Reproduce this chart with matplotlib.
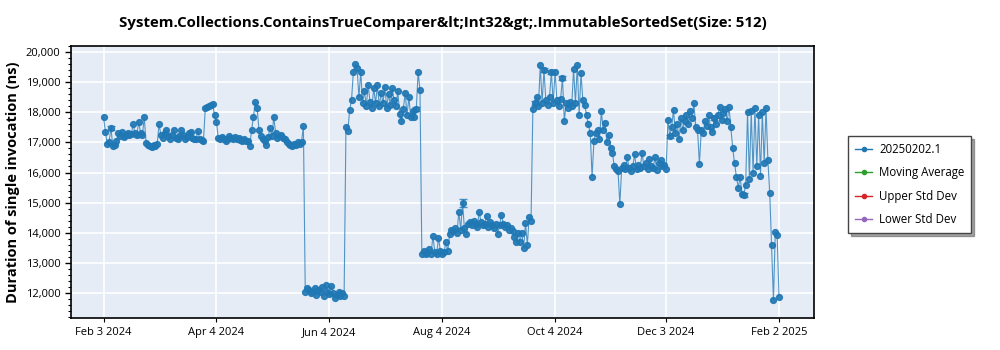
import matplotlib
matplotlib.use("Agg")
from matplotlib import pyplot as plt
from matplotlib.ticker import MultipleLocator, FuncFormatter
import numpy as np
import pandas as pd

plt.rcParams['font.family'] = ['Open Sans', 'DejaVu Sans']

title = "System.Collections.ContainsTrueComparer&lt;Int32&gt;.ImmutableSortedSet(Size: 512)"
series_name = "20250202.1"
start_date = "2024-02-03"

# daily durations (ns)
feb_jun = [17840, 17360, 16950, 17020, 17480, 16880, 16900, 17050, 17300, 17200,
           17350, 17180, 17250, 17300, 17230, 17280, 17600, 17300, 17250, 17680,
           17320, 17240, 17840, 16980, 16900, 16870, 16850, 16920, 16880, 16950,
           17600, 17250, 17150, 17300, 17410, 17200, 17100, 17250, 17410, 17150,
           17100, 17200, 17410, 17250, 17100, 17180, 17300, 17350, 17150, 17100,
           17120, 17380, 17100, 17080, 17060, 18150, 18170, 18200, 18240, 18260,
           17900, 17680, 17150, 17100, 17180, 17120, 17050, 17100, 17200, 17150,
           17120, 17180, 17100, 17150, 17090, 17060, 17120, 17050, 17030, 16880,
           17410, 17840, 18340, 18140, 17400, 17200, 17100, 17050, 16910, 17180,
           17480, 17200, 17840, 17300, 17150, 17200, 17250, 17150, 17100, 17000,
           16950, 16900, 16880, 16950, 16920, 17000, 16960, 17020, 17540]
jun_low = [12030, 12150, 12100, 12000, 12050, 12180, 11950, 12100, 12020, 12200,
           11900, 12260, 12050, 11980, 12230, 12000, 11830, 11950, 12050, 11900,
           12000, 11900]
jun_jul = [17500, 17380, 18080, 18400, 19340, 19600, 19470, 18500, 19340, 18300,
           18700, 18200, 18900, 18350, 18150, 18800, 18300, 18900, 18200, 18650,
           18300, 18850, 18150, 18600, 18250, 18800, 18400, 18200, 18700, 17950,
           17700, 18100, 18650, 17900, 18500, 17850, 18050, 17840, 18100, 19340, 18740]
jul_sep = [13300, 13400, 13280, 13350, 13450, 13300, 13900, 13350, 13280, 13830,
           13400, 13300, 13350, 13700, 13380,
           13950, 14100, 14050, 14150, 14000, 14690, 14100, 14990, 14150, 13950,
           14300, 14350, 14250, 14400, 14300, 14200, 14690, 14350, 14250, 14300,
           14560, 14200, 14350, 14250, 14150, 14300, 13960, 14250, 14600, 14300,
           14200, 14250, 14100, 14150, 14050,
           13860, 13690, 14000, 13700, 13990, 13490, 14320, 13600, 14520, 14400]
sep_oct = [18100, 18300, 18500, 18200, 19570, 18300, 19400, 18400, 18250, 18500,
           19340, 18300, 19350, 18400, 18200, 18450, 19140, 17710, 18300, 18150,
           18350, 18200, 19450, 18300, 19570, 17900, 19300, 18400, 18250, 17900]
oct_dec = [17600, 17300, 15850, 17050, 17300, 17400, 17100, 18040, 17400, 17650,
           17000, 17250, 16800, 16650,
           16200, 16100, 16050, 14950, 16150, 16250, 16100, 16500, 16150, 16050,
           16200, 16600, 16100, 16250, 16150, 16650, 16200,
           16300, 16100, 16450, 16200, 16150, 16500, 16080, 16300, 16400, 16200,
           16250, 16100]
dec_feb = [17740, 17200, 17500, 18080, 17300, 17600, 17100, 17800, 17400,
           17700, 17900, 17600, 18050, 17800, 18300, 17500, 17400,
           16280, 17410,
           17300, 17700, 17550, 17900, 17500, 17350, 17800, 17600, 17900, 18170,
           17750, 17980, 18100, 17700, 18170,
           17500, 16800, 16300, 15850, 15500, 15850, 15300, 15250, 15600,
           18010, 15800, 18040, 16000, 18140, 16200, 17910, 15900, 18000, 16300,
           18150, 16400, 15320,
           13590, 11770, 14020, 13930, 11870]

# points with visible error bars: day index and half-width (ns)
err_days = [4, 18, 169, 194, 233, 238, 242, 248, 306, 330, 346]
err_sizes = [70, 60, 70, 130, 60, 60, 60, 70, 60, 60, 60]

x_ticks = ["2024-02-03", "2024-04-04", "2024-06-04", "2024-08-04",
           "2024-10-04", "2024-12-03", "2025-02-02"]
x_labels = ["Feb 3 2024", "Apr 4 2024", "Jun 4 2024", "Aug 4 2024",
            "Oct 4 2024", "Dec 3 2024", "Feb 2 2025"]

legend_names = [series_name, "Moving Average", "Upper Std Dev", "Lower Std Dev"]
legend_colors = ["#1f77b4", "#2ca02c", "#d62728", "#9467bd"]

values = np.array(feb_jun + jun_low + jun_jul + jul_sep + sep_oct + oct_dec + dec_feb)
dates = pd.date_range(start_date, periods=len(values), freq="D")

fig = plt.figure(figsize=(10, 3.5), dpi=100)
ax = fig.add_axes([0.071, 0.0914, 0.743, 0.7772])
ax.set_facecolor("#e5ecf6")

ax.plot(dates, values, color="#1f77b4", lw=0.8, alpha=0.75, zorder=3)
ax.plot(dates, values, ls="none", marker="o", ms=4.2, color="#1f77b4", alpha=0.9, zorder=4)
ax.errorbar(dates[err_days], values[err_days], yerr=err_sizes, fmt="none",
            ecolor="#1f77b4", elinewidth=1, capsize=3, alpha=0.8, zorder=4)

handles = []
for name, c in zip(legend_names, legend_colors):
    h, = ax.plot([], [], color=c, lw=1, marker="o", ms=3, label=name)
    handles.append(h)

ax.set_xlim(pd.Timestamp("2024-01-16 10:00"), pd.Timestamp("2025-02-20 22:00"))
ax.set_ylim(11170, 20200)
ax.set_xticks(pd.to_datetime(x_ticks))
ax.set_xticklabels(x_labels)
ax.yaxis.set_major_locator(MultipleLocator(1000))
ax.yaxis.set_minor_locator(MultipleLocator(200))
ax.yaxis.set_major_formatter(FuncFormatter(lambda v, p: f"{int(v):,}"))
ax.tick_params(axis="both", labelsize=8, colors="black")
ax.tick_params(axis="y", which="major", length=4, width=1)
ax.tick_params(axis="y", which="minor", length=2, width=0.8)
ax.tick_params(axis="x", length=3)
ax.grid(True, color="white", lw=1.2)
ax.set_axisbelow(True)
for s in ax.spines.values():
    s.set_color("black")
    s.set_linewidth(1.2)

ax.set_title(title, fontsize=10.8, fontweight="bold", pad=14)
ax.set_ylabel("Duration of single invocation (ns)", fontsize=10.5, fontweight="bold")

leg = fig.legend(handles=handles, loc="upper left", bbox_to_anchor=(0.848, 0.611),
                 borderaxespad=0, fontsize=8.3, frameon=True, fancybox=False, shadow=True,
                 edgecolor="#444444", handlelength=1.5, handletextpad=0.6,
                 borderpad=0.6, labelspacing=0.9)
leg.get_frame().set_linewidth(1)

fig.savefig("out.png", dpi=100)
